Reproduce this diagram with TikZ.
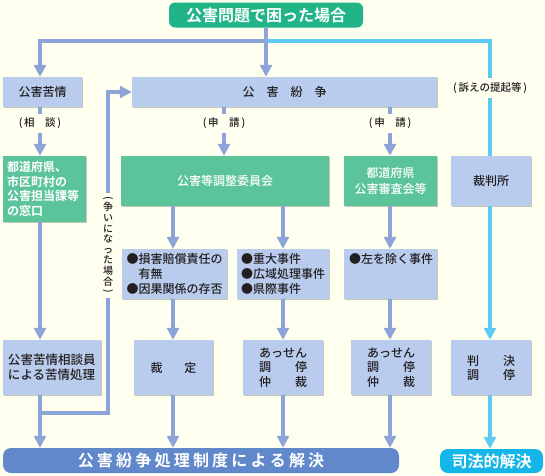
\documentclass[tikz,border=0pt]{standalone}
\usepackage{fontspec}
\setmainfont{Noto Sans CJK JP}[UprightFont=* Medium,BoldFont=* Bold]
\usepackage{graphicx}
\usetikzlibrary{arrows.meta,shadows,calc}
\definecolor{bgc}{HTML}{FFFFF0}
\definecolor{lineblue}{HTML}{8CA4D8}
\definecolor{skyc}{HTML}{5DC9F5}
\definecolor{boxblue}{HTML}{B9CCEE}
\definecolor{boxgreen}{HTML}{5BC49B}
\definecolor{titlegreen}{HTML}{21B487}
\definecolor{barblue}{HTML}{6088CB}
\definecolor{shihoc}{HTML}{14B5E8}
\definecolor{txtc}{HTML}{231F20}
\newcommand{\fsz}[2]{\fontsize{#1}{#2}\selectfont}
\newcommand{\vch}[1]{\hbox to 12pt{\hss#1\hss}}
\newcommand{\vparen}[1]{\hbox to 12pt{\hss\rotatebox[origin=c]{-90}{#1}\hss}}
\begin{document}
\begin{tikzpicture}[x=1pt,y=-1pt,
  shadowed/.style={drop shadow={shadow xshift=1.3pt,shadow yshift=-1.3pt,fill=black,opacity=0.22}},
  bluebox/.style={shadowed,fill=boxblue,text=txtc,inner sep=0pt,font=\fsz{12}{15}},
  greenbox/.style={shadowed,fill=boxgreen,text=white,inner sep=0pt,font=\fsz{12}{14}},
  conn/.style={draw=lineblue,line width=4pt},
  connarrow/.style={conn,-{Triangle[width=12pt,length=12pt]}},
  skyline/.style={draw=skyc,line width=4pt},
  skyarrow/.style={skyline,-{Triangle[width=12pt,length=12pt]}},
  lbl/.style={text=txtc,font=\fsz{10.5}{12},inner sep=0pt,minimum height=19pt},
  bigbar/.style={rounded corners=8pt,inner sep=0pt,text=white,font=\fsz{16}{18}\bfseries}
]
\fill[bgc] (0,0) rectangle (545,475);
\useasboundingbox (0,0) rectangle (545,475);

% nodes
\node[bigbar,fill=titlegreen,rounded corners=6pt,minimum width=194pt,minimum height=25pt] (title) at (266,15) {公害問題で困った場合};

\node[bluebox,minimum width=79pt,minimum height=30pt] (kujo) at (42.5,92) {公害苦情};
\node[bluebox,minimum width=305pt,minimum height=30pt] (funso) at (284.5,92) {公\hspace{12pt}害\hspace{12pt}紛\hspace{12pt}争};

\node[greenbox,minimum width=83pt,minimum height=66pt,text width=75pt,align=left,font=\fsz{12}{14.5}\bfseries] (madoguchi) at (44.5,189) {都道府県、\\市区町村の\\公害担当課等\\の窓口};
\node[greenbox,minimum width=208pt,minimum height=50pt] (kouchoi) at (225,181) {公害等調整委員会};
\node[greenbox,minimum width=93pt,minimum height=50pt,align=center,font=\fsz{12}{16}] (shinsa) at (390.5,181) {都道府県\\公害審査会等};
\node[bluebox,minimum width=80pt,minimum height=50pt] (saiban) at (491,181) {裁判所};

\node[bluebox,minimum width=105pt,minimum height=50pt,text width=96pt,align=left] (songai) at (174.5,274) {●損害賠償責任の\\\hphantom{●}有無\\●因果関係の存否};
\node[bluebox,minimum width=92pt,minimum height=50pt,text width=84pt,align=left] (judai) at (283,274) {●重大事件\\●広域処理事件\\●県際事件};
\node[bluebox,minimum width=93pt,minimum height=50pt] (hidari) at (390.5,274) {};
\node[text=txtc,font=\fsz{12}{15},inner sep=0pt,anchor=base west] (hidaritxt) at ($(hidari.north west)+(5,14.5)$) {●左を除く事件};

\node[bluebox,minimum width=98pt,minimum height=55pt,text width=88pt,align=left,font=\fsz{12.5}{14.5}] (kujoshori) at (52,367.5) {公害苦情相談員\\による苦情処理};
\node[bluebox,minimum width=79pt,minimum height=55pt] (saitei) at (173.5,367.5) {裁\hspace{22pt}定};
\node[bluebox,minimum width=80pt,minimum height=55pt,align=left,font=\fsz{12}{14.5}] (assen1) at (283,367.5) {あっせん\\調\hspace{2em}停\\仲\hspace{2em}裁};
\node[bluebox,minimum width=80pt,minimum height=55pt,align=left,font=\fsz{12}{14.5}] (assen2) at (391,367.5) {あっせん\\調\hspace{2em}停\\仲\hspace{2em}裁};
\node[bluebox,minimum width=80pt,minimum height=55pt,align=left,font=\fsz{12}{14}] (hanketsu) at (491,367.5) {判\hspace{2em}決\\調\hspace{2em}停};

\node[bigbar,fill=barblue,minimum width=396pt,minimum height=25pt] (bar) at (201,460.5) {公\kern3.2pt害\kern3.2pt紛\kern3.2pt争\kern3.2pt処\kern3.2pt理\kern3.2pt制\kern3.2pt度\kern3.2pt に\kern3.2pt よ\kern3.2pt る\kern3.2pt 解\kern3.2pt 決};
\node[bigbar,fill=shihoc,minimum width=103pt,minimum height=24pt] (shiho) at (491.5,461) {司法的解決};

% labels
\node[lbl] (sotsu) at (490,88) {(\,訴えの提起等\,)};
\node[lbl] (sodan) at (40,123.5) {(\,相\hspace{1em}談\,)};
\node[lbl] (shin1) at (224,123.5) {(\,申\hspace{1em}請\,)};
\node[lbl] (shin2) at (390,123.5) {(\,申\hspace{1em}請\,)};
\node[text=txtc,inner sep=0pt,font=\fsz{10}{10.5}] (arasoi) at (108,245.5) {\vbox{\baselineskip=10.6pt\lineskiplimit=-20pt\lineskip=0pt
  \vparen{(}\vskip-1pt\vch{争}\vch{い}\vch{に}\vch{な}\vch{っ}\vch{た}\vch{場}\vch{合}\vskip-1pt\vparen{)}}};

% helper coordinates
\coordinate (hl) at (266,41);
\coordinate (c1) at (40,0);
\coordinate (c3) at (173,0);
\coordinate (c4) at (224,0);
\coordinate (c5) at (283,0);
\coordinate (c6) at (390,0);
\coordinate (c7) at (490,0);
\coordinate (j1) at (40,413);
\coordinate (j2) at (108,413);

% sky blue connectors
\draw[skyline] (hl) -| (sotsu.north);
\draw[skyline] (sotsu.south) -- (saiban.north -| sotsu.south);
\draw[skyarrow] (saiban.south -| c7) -- (hanketsu.north -| c7);
\draw[skyarrow] (hanketsu.south -| c7) -- (shiho.north -| c7);

% blue connectors
\draw[connarrow] (title.south) -- (title.south |- funso.north);
\draw[connarrow] (hl) -| (kujo.north -| c1);
\draw[conn] (kujo.south -| c1) -- (sodan.north);
\draw[connarrow] (sodan.south) -- (madoguchi.north -| c1);
\draw[connarrow] (madoguchi.south -| c1) -- (kujoshori.north -| c1);
\draw[connarrow] (kujoshori.south -| c1) -- (bar.north -| c1);
\draw[conn] (j1) -- (j2) -- ([yshift=-3pt]arasoi.south);
\draw[connarrow] ([yshift=3pt]arasoi.north) -- (arasoi.north |- funso.west) -- (funso.west);

\draw[conn] (funso.south -| c4) -- (shin1.north);
\draw[connarrow] (shin1.south) -- (kouchoi.north -| c4);
\draw[conn] (funso.south -| c6) -- (shin2.north);
\draw[connarrow] (shin2.south) -- (shinsa.north -| c6);

\draw[connarrow] (kouchoi.south -| c3) -- (songai.north -| c3);
\draw[connarrow] (kouchoi.south -| c5) -- (judai.north -| c5);
\draw[connarrow] (shinsa.south -| c6) -- (hidari.north -| c6);

\draw[connarrow] (songai.south -| c3) -- (saitei.north -| c3);
\draw[connarrow] (judai.south -| c5) -- (assen1.north -| c5);
\draw[connarrow] (hidari.south -| c6) -- (assen2.north -| c6);

\draw[connarrow] (saitei.south -| c3) -- (bar.north -| c3);
\draw[connarrow] (assen1.south -| c5) -- (bar.north -| c5);
\draw[connarrow] (assen2.south -| c6) -- (bar.north -| c6);
\end{tikzpicture}
\end{document}
